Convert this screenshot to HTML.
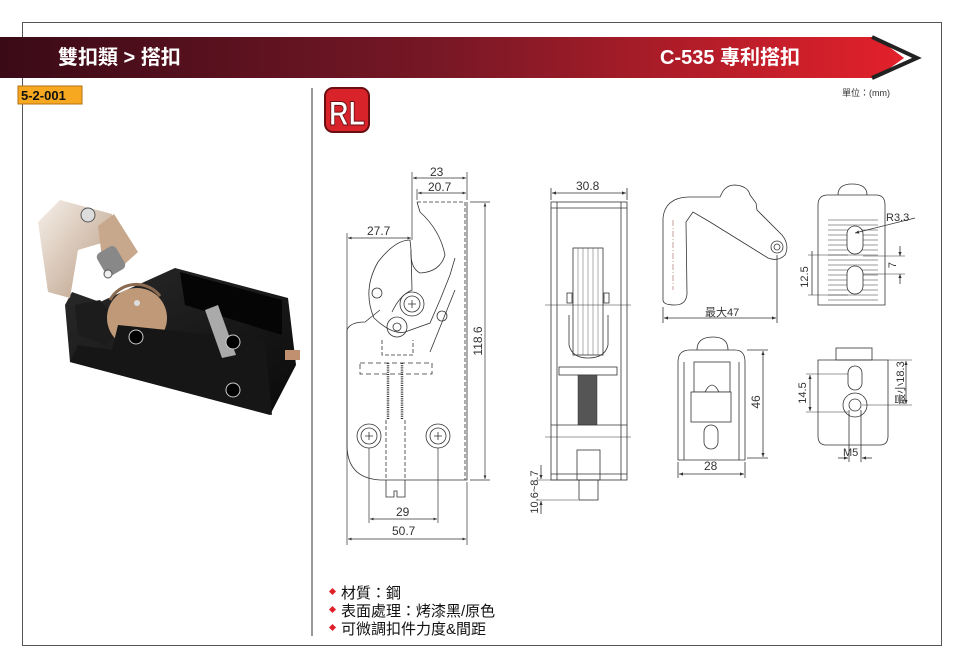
<!DOCTYPE html>
<html><head><meta charset="utf-8"><style>
html,body{margin:0;padding:0;background:#fff;}
body{width:960px;height:668px;overflow:hidden;position:relative;font-family:"Liberation Sans","Noto Sans CJK TC",sans-serif;}
svg{position:absolute;left:0;top:0;}
text{font-family:"Liberation Sans","Noto Sans CJK TC",sans-serif;}
</style></head><body>
<svg width="960" height="668" viewBox="0 0 960 668" xmlns="http://www.w3.org/2000/svg">
<defs>
<linearGradient id="hg" x1="0" x2="1" y1="0" y2="0">
<stop offset="0" stop-color="#3a0a17"/><stop offset="0.5" stop-color="#7a1826"/><stop offset="1" stop-color="#e3212b"/>
</linearGradient>
<linearGradient id="bk" x1="0" x2="1" y1="0" y2="1"><stop offset="0" stop-color="#2a2a2a"/><stop offset="1" stop-color="#0a0a0a"/></linearGradient>
<linearGradient id="sv" x1="0" x2="1" y1="0" y2="1"><stop offset="0" stop-color="#f6f0ea"/><stop offset="1" stop-color="#b89a80"/></linearGradient>
<marker id="a" viewBox="0 0 10 10" refX="10" refY="5" markerWidth="7" markerHeight="5" orient="auto-start-reverse"><path d="M0,1L10,5L0,9z" fill="#333"/></marker>
</defs>
<rect x="22.5" y="22.5" width="919" height="623" fill="none" stroke="#555" stroke-width="1"/>
<polygon points="0,37 876,37 904,58 876,78 0,78" fill="url(#hg)"/>
<polyline points="872,37 917,58 872,78" fill="none" stroke="#222" stroke-width="4"/>
<text x="58" y="64" font-size="20" font-weight="bold" fill="#fff">雙扣類 &gt; 搭扣</text>
<text x="660" y="64" font-size="20" font-weight="bold" fill="#fff">C-535  專利搭扣</text>
<rect x="18" y="86" width="64" height="18" fill="#f6a821" stroke="#b57010"/>
<text x="21" y="100" font-size="13" font-weight="bold" fill="#111">5-2-001</text>
<text x="842" y="96" font-size="9" fill="#333">單位：(mm)</text>
<line x1="312" y1="88" x2="312" y2="636" stroke="#999" stroke-width="2"/>
<rect x="325" y="88" width="44" height="44" rx="8" fill="#d8232a" stroke="#6a0e12" stroke-width="2"/>
<text x="347" y="125" font-size="34" font-weight="bold" fill="#fff" stroke="#6a0e12" stroke-width="1" text-anchor="middle" textLength="36" lengthAdjust="spacingAndGlyphs">RL</text>

<!-- product photo -->
<g>
<polygon points="65,305 72,292 100,302 175,268 288,298 296,365 270,415 70,362" fill="url(#bk)"/>
<polygon points="180,272 282,300 282,335 185,305" fill="#050505"/>
<polygon points="75,305 100,300 125,330 105,345 78,335" fill="#1c1c1c"/>
<ellipse cx="137" cy="318" rx="30" ry="30" fill="#c09a78"/>
<path d="M110,300 A30,30 0 0 1 160,296" fill="none" stroke="#8a6a50" stroke-width="3"/>
<polygon points="118,325 265,340 272,415 70,362 78,345 112,350" fill="#161616"/>
<polygon points="205,310 218,305 236,355 222,358" fill="#aaa"/>
<circle cx="136" cy="337" r="7" fill="#000" stroke="#ccc"/>
<circle cx="233" cy="342" r="7" fill="#000" stroke="#ccc"/>
<circle cx="233" cy="390" r="7" fill="#000" stroke="#ccc"/>
<circle cx="137" cy="303" r="3" fill="#ddd"/>
<rect x="285" y="350" width="15" height="10" fill="#c09070"/>
<polygon points="38,222 60,200 112,214 112,240 78,250 70,298 48,292 42,250" fill="url(#sv)"/>
<polygon points="98,226 114,214 138,252 116,272 102,258" fill="#c8a88c"/>
<rect x="100" y="248" width="22" height="26" rx="5" fill="#888" transform="rotate(-30 111 261)"/>
<circle cx="88" cy="215" r="7" fill="#ddd" stroke="#555"/>
<circle cx="108" cy="274" r="4" fill="#eee" stroke="#555"/>
</g>

<g fill="none" stroke="#333" stroke-width="0.8">
<path d="M467,202 L467,480 L380,480 Q347,478 347,445 L347,330 Q350,322 365,322 L380,310"/>
<path d="M417,202 L465,202 L465,480" stroke-dasharray="4,2"/>
<path d="M417,202 L420,212 Q440,230 445,255 Q440,272 420,273 Q410,268 411,250 L410,240 Q395,240 378,262 Q362,290 374,318 Q392,335 405,332 L430,323 L440,300 L450,275 L455,258" />
<path d="M411,250 L412,290 Q400,295 392,312"/>
<circle cx="377" cy="293" r="5"/><circle cx="442" cy="316" r="5"/>
<circle cx="412" cy="304" r="12"/><circle cx="412" cy="304" r="8"/>
<circle cx="397" cy="327" r="10"/><circle cx="397" cy="327" r="4"/>
<circle cx="369" cy="436" r="12"/><circle cx="369" cy="436" r="8"/>
<circle cx="438" cy="436" r="12"/><circle cx="438" cy="436" r="8"/>
<path d="M408,304h8M412,300v8M365,436h8M369,432v8M434,436h8M438,432v8"/>
<path d="M382,340 L382,355 L413,355 L413,340" stroke-dasharray="4,2"/>
<path d="M360,363 L432,363 L432,374 L360,374 Z" stroke-dasharray="5,3"/>
<path d="M388,363 L388,420 M402,363 L402,420" stroke-width="2.5" stroke-dasharray="1,1.2"/>
<path d="M386,420 L386,480 M405,420 L405,480" stroke-dasharray="4,2"/>
<path d="M386,480 L386,497 L394,497 L394,491 L397,491 L397,497 L405,497 L405,480"/>
<path d="M430,352 L455,290" />
</g>
<g fill="none" stroke="#333" stroke-width="0.7">
<line x1="412" y1="172" x2="412" y2="240"/><line x1="467" y1="172" x2="467" y2="200"/>
<line x1="413" y1="178" x2="466" y2="178" marker-start="url(#a)" marker-end="url(#a)"/>
<line x1="417" y1="189" x2="417" y2="200"/>
<line x1="418" y1="193" x2="466" y2="193" marker-start="url(#a)" marker-end="url(#a)"/>
<line x1="347" y1="233" x2="347" y2="545"/>
<line x1="348" y1="238" x2="411" y2="238" marker-start="url(#a)" marker-end="url(#a)"/>
<line x1="470" y1="202" x2="490" y2="202"/><line x1="470" y1="480" x2="490" y2="480"/>
<line x1="485" y1="203" x2="485" y2="479" marker-start="url(#a)" marker-end="url(#a)"/>
<line x1="369" y1="448" x2="369" y2="523"/><line x1="438" y1="448" x2="438" y2="523"/>
<line x1="370" y1="519" x2="437" y2="519" marker-start="url(#a)" marker-end="url(#a)"/>
<line x1="467" y1="482" x2="467" y2="545"/>
<line x1="348" y1="539" x2="466" y2="539" marker-start="url(#a)" marker-end="url(#a)"/>
</g>
<g font-size="12" fill="#333">
<text x="430" y="176">23</text><text x="428" y="191">20.7</text>
<text x="367" y="235">27.7</text>
<text x="396" y="516">29</text><text x="392" y="535">50.7</text>
<text transform="translate(482,341) rotate(-90)" text-anchor="middle">118.6</text>
</g>

<g fill="none" stroke="#333" stroke-width="0.8">
<rect x="551" y="202" width="76" height="278"/>
<line x1="557" y1="202" x2="557" y2="480"/><line x1="621" y1="202" x2="621" y2="480"/>
<line x1="551" y1="208" x2="627" y2="208"/><line x1="551" y1="474" x2="627" y2="474"/>
<rect x="573" y="248" width="30" height="107"/>
<path d="M578,248v107M583,248v107M588,248v107M593,248v107M598,248v107" stroke-width="0.4"/>
<path d="M569,315 L569,345 Q572,358 588,358 Q605,358 608,345 L608,315"/>
<rect x="567" y="293" width="5" height="10"/><rect x="604" y="293" width="5" height="10"/>
<rect x="559" y="367" width="58" height="8"/>
<rect x="578" y="375" width="19" height="50" fill="#555" stroke-width="0.5"/>
<line x1="551" y1="425" x2="627" y2="425"/>
<rect x="577" y="450" width="23" height="30"/>
<rect x="579" y="480" width="19" height="20"/>
<line x1="545" y1="305" x2="631" y2="305" stroke-width="0.5"/>
<line x1="545" y1="437" x2="631" y2="437" stroke-width="0.5"/>
<line x1="551" y1="188" x2="551" y2="200"/><line x1="627" y1="188" x2="627" y2="200"/>
<line x1="552" y1="193" x2="626" y2="193" marker-start="url(#a)" marker-end="url(#a)"/>
<line x1="536" y1="480" x2="576" y2="480" stroke-width="0.6"/><line x1="536" y1="500" x2="578" y2="500" stroke-width="0.6"/>
<line x1="541" y1="465" x2="541" y2="479" marker-end="url(#a)"/>
<line x1="541" y1="514" x2="541" y2="501" marker-end="url(#a)"/>
</g>
<text x="576" y="190" font-size="12" fill="#333">30.8</text>
<text transform="translate(538,492) rotate(-90)" text-anchor="middle" font-size="11" fill="#333">10.6~8.7</text>

<g fill="none" stroke="#333" stroke-width="0.8">
<path d="M663,300 L663,218 Q665,198 688,197 L720,197 L722,193 Q726,185 735,185 Q748,186 750,195 L756,203 L757,210 L782,235 Q790,245 785,255 Q778,262 768,258 L710,222 L693,212 L686,222 L687,294 Q686,305 675,305 Q663,305 663,300Z"/>
<circle cx="777" cy="247" r="6"/><circle cx="777" cy="247" r="3"/>
<line x1="663" y1="307" x2="663" y2="323"/><line x1="777" y1="255" x2="777" y2="323"/>
<line x1="664" y1="318" x2="776" y2="318" marker-start="url(#a)" marker-end="url(#a)"/>
<line x1="673" y1="220" x2="673" y2="290" stroke="#b88" stroke-dasharray="6,2,1,2"/>
</g>
<text x="705" y="316" font-size="11" fill="#333">最大47</text>

<g fill="none" stroke="#333" stroke-width="0.8">
<path d="M838,195 Q838,184 852,184 Q867,184 867,195"/>
<path d="M818,300 L818,205 Q818,195 828,195 L876,195 Q885,195 885,205 L885,305 L818,305Z"/>
<path d="M828,220h50M828,225h50M828,230h50M828,235h50M828,240h50M828,245h50M828,250h50M828,255h50M828,260h50M828,265h50M828,270h50M828,275h50M828,280h50M828,285h50M828,290h50M828,295h50M828,300h50" stroke-width="0.5"/>
<rect x="847" y="226" width="16" height="28" rx="8" fill="#fff"/>
<rect x="847" y="266" width="16" height="28" rx="8" fill="#fff"/>
<line x1="855" y1="233" x2="915" y2="218" marker-start="url(#a)"/>
<line x1="808" y1="255" x2="848" y2="255" stroke-width="0.5"/><line x1="808" y1="295" x2="848" y2="295" stroke-width="0.5"/>
<line x1="812" y1="251" x2="812" y2="295"/>
<line x1="863" y1="256" x2="905" y2="256" stroke-width="0.5"/><line x1="863" y1="274" x2="905" y2="274" stroke-width="0.5"/>
<line x1="900" y1="246" x2="900" y2="256" marker-end="url(#a)"/><line x1="900" y1="284" x2="900" y2="274" marker-end="url(#a)"/>
</g>
<text x="886" y="221" font-size="11" fill="#333">R3.3</text>
<text transform="translate(808,277) rotate(-90)" text-anchor="middle" font-size="11" fill="#333">12.5</text>
<text transform="translate(896,265) rotate(-90)" text-anchor="middle" font-size="11" fill="#333">7</text>

<g fill="none" stroke="#333" stroke-width="0.8">
<path d="M697,350 Q697,337 713,337 Q728,337 728,350"/>
<path d="M678,460 L678,362 Q678,350 690,350 L735,350 Q745,350 745,362 L745,460Z"/>
<path d="M684,460 L684,362 M739,460 L739,362"/>
<rect x="694" y="362" width="36" height="30"/>
<rect x="691" y="392" width="40" height="30" fill="#fff"/>
<path d="M705,392 Q712,378 719,392"/>
<rect x="704" y="425" width="14" height="24" rx="7"/>
<line x1="747" y1="350" x2="768" y2="350"/><line x1="747" y1="458" x2="768" y2="458"/>
<line x1="763" y1="351" x2="763" y2="457" marker-start="url(#a)" marker-end="url(#a)"/>
<line x1="678" y1="462" x2="678" y2="478"/><line x1="745" y1="462" x2="745" y2="478"/>
<line x1="679" y1="474" x2="744" y2="474" marker-start="url(#a)" marker-end="url(#a)"/>
</g>
<text transform="translate(760,402) rotate(-90)" text-anchor="middle" font-size="12" fill="#333">46</text>
<text x="704" y="470" font-size="12" fill="#333">28</text>

<g fill="none" stroke="#333" stroke-width="0.8">
<rect x="836" y="348" width="36" height="12"/>
<path d="M818,360 L888,360 L888,436 Q888,445 880,445 L826,445 Q818,445 818,436Z"/>
<rect x="848" y="366" width="14" height="24" rx="7"/>
<circle cx="855" cy="405" r="12"/><circle cx="855" cy="405" r="6"/>
<line x1="806" y1="374" x2="848" y2="374" stroke-width="0.5"/><line x1="806" y1="412" x2="848" y2="412" stroke-width="0.5"/>
<line x1="810" y1="375" x2="810" y2="411" marker-start="url(#a)" marker-end="url(#a)"/>
<line x1="862" y1="405" x2="912" y2="405" stroke-width="0.5"/><line x1="888" y1="360" x2="912" y2="360" stroke-width="0.5"/>
<line x1="906" y1="361" x2="906" y2="404" marker-start="url(#a)" marker-end="url(#a)"/>
<line x1="849" y1="410" x2="849" y2="462"/><line x1="861" y1="410" x2="861" y2="462"/>
<line x1="838" y1="458" x2="848" y2="458" marker-end="url(#a)"/><line x1="872" y1="458" x2="862" y2="458" marker-end="url(#a)"/>
</g>
<text transform="translate(806,393) rotate(-90)" text-anchor="middle" font-size="11" fill="#333">14.5</text>
<text transform="translate(904,383) rotate(-90)" text-anchor="middle" font-size="11" fill="#333">最小18.3</text>
<text x="843" y="456" font-size="11" fill="#333">M5</text>

<g font-size="15" fill="#111">
<text x="341" y="598">材質：鋼</text>
<text x="341" y="616">表面處理：烤漆黑/原色</text>
<text x="341" y="634">可微調扣件力度&amp;間距</text>
</g>
<g fill="#e0202a">
<rect x="330" y="589" width="5" height="5" transform="rotate(45 332.5 591.5)"/>
<rect x="330" y="607" width="5" height="5" transform="rotate(45 332.5 609.5)"/>
<rect x="330" y="625" width="5" height="5" transform="rotate(45 332.5 627.5)"/>
</g>
</svg>
</body></html>
